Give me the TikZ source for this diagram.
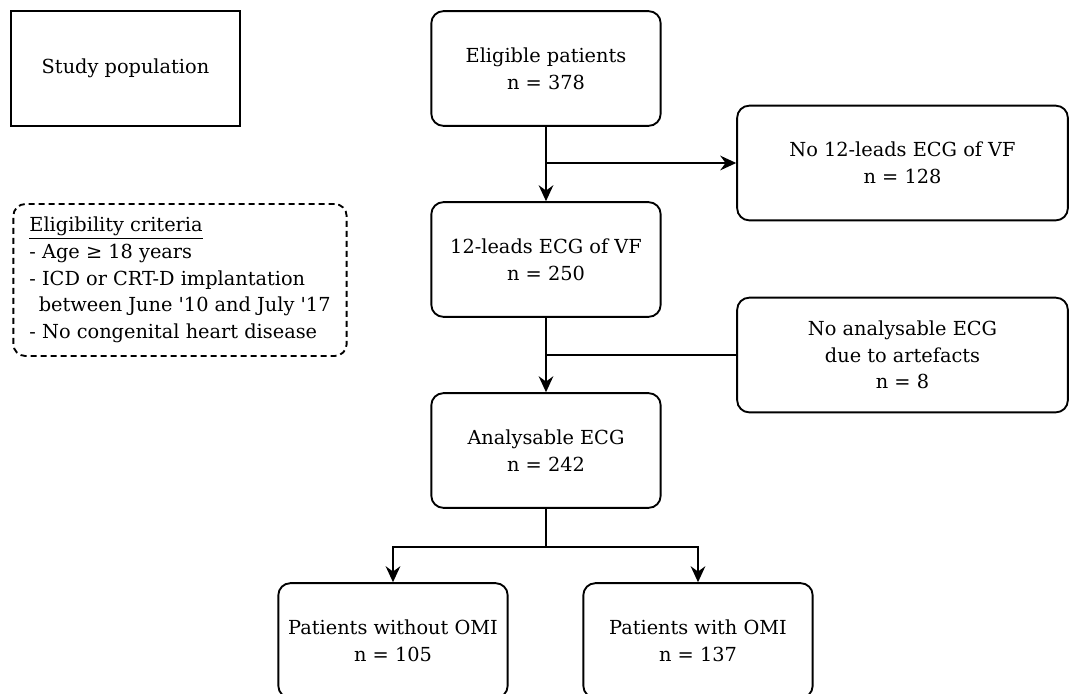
\documentclass[tikz,border=0pt]{standalone}
\usepackage{fontspec}
\setmainfont{DejaVu Serif}
\usetikzlibrary{arrows.meta}
\tikzset{
  box/.style={draw, line width=1.4pt, rounded corners=9pt, align=center,
    minimum width=172pt, minimum height=86pt, inner sep=2pt},
  sidebox/.style={box, minimum width=248pt},
  plainbox/.style={box, rounded corners=0pt},
  critbox/.style={box, dash pattern=on 4.5pt off 3pt, align=left,
    minimum width=250pt, minimum height=114pt},
  arr/.style={-{Stealth[length=12pt,width=11pt,inset=4pt]}}
}
\begin{document}
\begin{tikzpicture}[x=0.75pt, y=-0.75pt, line width=1.4pt,
    font=\fontsize{14.5}{20}\selectfont]
      \useasboundingbox (0,0) rectangle (1069,693);
      \clip (0,0) rectangle (1069,693);
      \node[plainbox] (study) at (125.5,68.5) {Study population};
      \node[critbox] (crit) at (180,280)
        {\underline{Eligibility criteria}\\
         - Age ≥ 18 years\\
         - ICD or CRT-D implantation\\
         \ \,between June \textquotesingle10 and July \textquotesingle17\\
         - No congenital heart disease};
      \node[box] (elig) at (546,68.5) {Eligible patients\\n = 378};
      \node[sidebox] (noecg) at (902.5,163) {No 12-leads ECG of VF\\n = 128};
      \node[box] (ecg) at (546,259.5) {12-leads ECG of VF\\n = 250};
      \node[sidebox] (noanal) at (902.5,355) {No analysable ECG\\due to artefacts\\n = 8};
      \node[box] (anal) at (546,450.5) {Analysable ECG\\n = 242};
      \node[box] (without) at (393,640.5) {Patients without OMI\\n = 105};
      \node[box] (with) at (698,640.5) {Patients with OMI\\n = 137};
      \coordinate (b1) at (546,163);
      \coordinate (b2) at (546,355);
      \coordinate (b3) at (546,547);
      \begin{scope}[arr]
        \draw (elig) -- (ecg);
        \draw (b1) -- (noecg);
        \draw (ecg) -- (anal);
        \draw (b3) -| (without);
        \draw (b3) -| (with);
      \end{scope}
      \draw (b2) -- (noanal);
      \draw (anal) -- (b3);
    \end{tikzpicture}
\end{document}
